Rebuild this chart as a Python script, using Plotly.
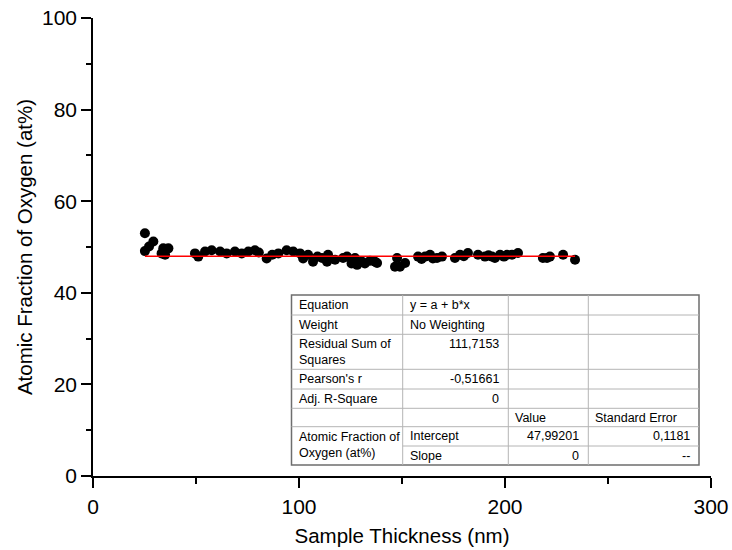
import plotly.graph_objects as go

# Measured oxygen content vs. sample thickness
thickness_nm = [25.2, 25.2, 27.2, 29.3, 33.3, 34.1, 35.0, 36.6, 49.5, 51.1,
                54.4, 57.6, 61.7, 64.9, 68.9, 72.2, 75.4, 78.6, 80.5, 84.3,
                87.0, 90.0, 94.0, 97.2, 100.5, 102.0, 104.4, 106.8, 109.0, 111.2,
                113.6, 114.1, 117.5, 121.4, 123.3, 125.5, 127.2, 128.2, 130.6, 132.0,
                134.5, 136.9, 137.9, 146.6, 147.6, 149.0, 151.5, 157.8, 159.5, 161.2,
                163.6, 165.0, 167.0, 169.4, 175.7, 178.2, 180.0, 182.0, 186.9, 190.3,
                192.0, 193.7, 195.1, 197.6, 199.5, 201.0, 203.4, 206.3, 218.4, 220.4,
                221.8, 228.2, 234.0]
oxygen_at = [53.0, 49.1, 50.1, 51.2, 48.6, 49.7, 48.3, 49.7, 48.6, 47.9,
             49.0, 49.3, 49.0, 48.6, 49.0, 48.6, 49.0, 49.3, 48.8, 47.5,
             48.3, 48.6, 49.3, 49.0, 48.6, 47.5, 48.3, 46.8, 47.9, 47.6,
             46.8, 48.3, 47.2, 47.6, 47.9, 46.4, 47.6, 46.1, 46.8, 46.4,
             47.0, 46.8, 46.5, 45.7, 47.6, 45.7, 46.5, 47.9, 47.4, 47.9,
             48.3, 47.5, 47.6, 47.9, 47.6, 48.3, 48.0, 48.7, 48.3, 47.9,
             48.2, 47.9, 47.6, 48.3, 47.9, 48.3, 48.3, 48.7, 47.6, 47.6,
             47.9, 48.3, 47.2]

# Linear fit results (y = a + b*x)
fit_intercept = 47.99201
fit_slope = 0.0

# Fit summary table contents
table_rows = [
    ["Equation", "y = a + b*x", "", ""],
    ["Weight", "No Weighting", "", ""],
    ["Residual Sum of<br>Squares", "111,7153", "", ""],
    ["Pearson's r", "-0,51661", "", ""],
    ["Adj. R-Square", "0", "", ""],
    ["", "", "Value", "Standard Error"],
    ["Atomic Fraction of<br>Oxygen (at%)", "Intercept", "47,99201", "0,1181"],
    ["", "Slope", "0", "--"],
]
# cells whose text is right-aligned (row, column)
right_aligned = {(2, 1), (3, 1), (4, 1), (6, 2), (6, 3), (7, 2), (7, 3)}

FONT = "Liberation Sans, Arial, sans-serif"
W, H = 732, 550
ML, MR, MT, MB = 93, 21, 18, 74
PW, PH = W - ML - MR, H - MT - MB


def px(x):
    return (x - ML) / PW


def py(y):
    return (H - MB - y) / PH


fig = go.Figure()

x0, x1 = min(thickness_nm), max(thickness_nm)
fig.add_trace(go.Scatter(
    x=thickness_nm, y=oxygen_at, mode="markers",
    marker=dict(color="black", size=10, line=dict(width=0)),
    showlegend=False, hoverinfo="x+y"))
fig.add_trace(go.Scatter(
    x=[x0, x1], y=[fit_intercept + fit_slope * x0, fit_intercept + fit_slope * x1],
    mode="lines", line=dict(color="#ff0000", width=1.6),
    showlegend=False, hoverinfo="skip"))

# Table geometry (pixel positions inside the page)
col_edges = [291.5, 402.7, 508.3, 588.3, 699.0]
row_edges = [295.0, 315.0, 334.3, 369.3, 389.0, 408.3, 426.7, 446.0, 465.0]

shapes = []
shapes.append(dict(type="rect", xref="paper", yref="paper",
                   x0=px(col_edges[0]), x1=px(col_edges[-1]),
                   y0=py(row_edges[-1]), y1=py(row_edges[0]),
                   fillcolor="white", line=dict(color="#6e6e6e", width=1.5),
                   layer="above"))
for c in col_edges[1:-1]:
    shapes.append(dict(type="line", xref="paper", yref="paper",
                       x0=px(c), x1=px(c), y0=py(row_edges[0]), y1=py(row_edges[-1]),
                       line=dict(color="#b4b4b4", width=1), layer="above"))
for i, r in enumerate(row_edges[1:-1], start=1):
    start = col_edges[1] if i == 7 else col_edges[0]
    shapes.append(dict(type="line", xref="paper", yref="paper",
                       x0=px(start), x1=px(col_edges[-1]), y0=py(r), y1=py(r),
                       line=dict(color="#b4b4b4", width=1), layer="above"))

annotations = []
for ri, row in enumerate(table_rows):
    top = row_edges[ri]
    for ci, txt in enumerate(row):
        if not txt:
            continue
        lines = txt.count("<br>") + 1
        ymid = top + 9.5 + (lines - 1) * 8.5
        if ri == 6 and ci == 0:
            ymid = top + 18.5
        if (ri, ci) in right_aligned:
            xpos, anchor = col_edges[ci + 1] - 7, "right"
        else:
            xpos, anchor = col_edges[ci] + 5, "left"
        annotations.append(dict(x=px(xpos), y=py(ymid),
                                xref="paper", yref="paper", text=txt,
                                xanchor=anchor, yanchor="middle", showarrow=False,
                                align=anchor,
                                font=dict(family=FONT, size=12.5, color="black")))

axis_common = dict(
    showgrid=False, zeroline=False, showline=True, linecolor="black", linewidth=1.5,
    ticks="outside", ticklen=10, tickwidth=1.5, tickcolor="black",
    tickfont=dict(family=FONT, size=21, color="black"),
    mirror=False, automargin=False,
)

fig.update_layout(
    width=W, height=H,
    margin=dict(l=ML, r=MR, t=MT, b=MB),
    paper_bgcolor="white", plot_bgcolor="white",
    font=dict(family=FONT, color="black"),
    xaxis=dict(range=[0, 300], tickvals=[0, 100, 200, 300],
               minor=dict(tickvals=[50, 150, 250], ticks="outside", ticklen=6,
                          tickwidth=1.5, tickcolor="black", showgrid=False),
               ticklabelstandoff=1,
               title=dict(text="Sample Thickness (nm)", standoff=12,
                          font=dict(family=FONT, size=20.5, color="black")),
               **axis_common),
    yaxis=dict(range=[0, 100], tickvals=[0, 20, 40, 60, 80, 100],
               minor=dict(tickvals=[10, 30, 50, 70, 90], ticks="outside", ticklen=5,
                          tickwidth=1.5, tickcolor="black", showgrid=False),
               title=dict(text="Atomic Fraction of Oxygen (at%)", standoff=4,
                          font=dict(family=FONT, size=20.5, color="black")),
               **axis_common),
    shapes=shapes,
    annotations=annotations,
)

fig.write_html("out.html")
